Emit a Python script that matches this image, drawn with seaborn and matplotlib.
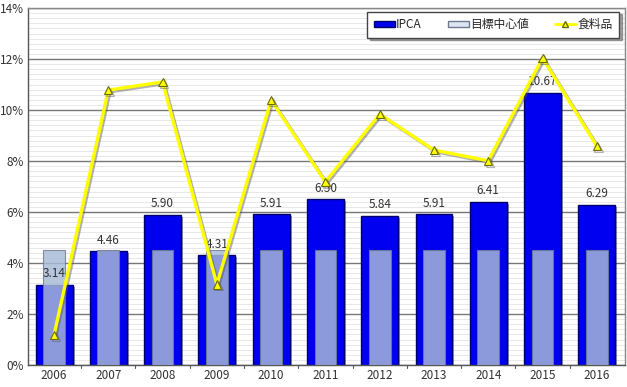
import matplotlib
matplotlib.use("Agg")
import matplotlib.pyplot as plt
import matplotlib.patheffects as pe
from matplotlib.patches import Patch
from matplotlib.lines import Line2D
from matplotlib.ticker import MultipleLocator, FuncFormatter
import seaborn as sns
import numpy as np
import pandas as pd

years = ["2006", "2007", "2008", "2009", "2010", "2011", "2012", "2013", "2014", "2015", "2016"]
ipca = [3.14, 4.46, 5.90, 4.31, 5.91, 6.50, 5.84, 5.91, 6.41, 10.67, 6.29]
target = [4.5, 4.5, 4.5, 4.5, 4.5, 4.5, 4.5, 4.5, 4.5, 4.5, 4.5]
food = [1.18, 10.78, 11.10, 3.16, 10.39, 7.18, 9.84, 8.43, 8.01, 12.04, 8.59]
series_names = ["IPCA", "目標中心値", "食料品"]

sns.set_theme(style="white")
plt.rcParams["font.family"] = ["Noto Sans CJK JP", "DejaVu Sans"]

df = pd.DataFrame({"year": years, "ipca": ipca, "target": target, "food": food})

fig = plt.figure(figsize=(6.27, 3.87), dpi=100)
ax = fig.add_axes([28 / 627, 22 / 387, (625 - 28) / 627, (365 - 8) / 387])

shadow = [pe.SimpleLineShadow(offset=(1.2, -1.2), shadow_color="#555555", alpha=0.45), pe.Normal()]

sns.barplot(data=df, x="year", y="ipca", ax=ax, width=0.68, color="#0000F0",
            saturation=1, edgecolor="#00006A", linewidth=1.0, zorder=2)
for b in list(ax.patches):
    b.set_path_effects([pe.SimplePatchShadow(offset=(1.5, -1.5), alpha=0.4), pe.Normal()])

sns.barplot(data=df, x="year", y="target", ax=ax, width=0.40, color="#A9BBD9",
            saturation=1, edgecolor="#6E7A90", linewidth=0.8, alpha=0.83, zorder=3)

sns.pointplot(data=df, x="year", y="food", ax=ax, color="#FFFF00", markers="^",
              linestyles="-", markersize=6, linewidth=2.4,
              markeredgecolor="#6B6B00", markeredgewidth=0.8, zorder=6)
for ln in ax.lines:
    ln.set_path_effects(shadow)
    ln.set_zorder(6)

for i, v in enumerate(ipca):
    ax.text(i, v + 0.18, f"{v:.2f}", ha="center", va="bottom", fontsize=8.5,
            color="#333333", zorder=5)

ax.set_xlim(-0.48, 10.52)
ax.set_ylim(0, 14)
ax.yaxis.set_major_locator(MultipleLocator(2))
ax.yaxis.set_minor_locator(MultipleLocator(0.2))
ax.yaxis.set_major_formatter(FuncFormatter(lambda v, p: f"{int(round(v))}%"))
ax.grid(which="major", axis="y", color="#777777", linewidth=1.0, zorder=0)
ax.grid(which="minor", axis="y", color="#E8E8E8", linewidth=0.7, zorder=0)
ax.set_axisbelow(True)
ax.set_xlabel("")
ax.set_ylabel("")
ax.tick_params(axis="both", labelsize=8.5, colors="#333333", length=0, pad=3)
for s in ax.spines.values():
    s.set_color("#888888")
    s.set_linewidth(1.0)
ax.spines["left"].set_color("#555555")
ax.spines["bottom"].set_color("#555555")

for i in range(len(years) - 1):
    ax.plot([i + 0.5, i + 0.5], [0, -0.12], color="#555555", lw=0.8, clip_on=False, zorder=1)

handles = [
    Patch(facecolor="#0000F0", edgecolor="#00006A", label=series_names[0]),
    Patch(facecolor="#DDE6F0", edgecolor="#6E7A90", label=series_names[1]),
    Line2D([0], [0], color="#FFFF00", lw=2, marker="^", markersize=5,
           markeredgecolor="#6B6B00", label=series_names[2]),
]
leg = ax.legend(handles=handles, loc="upper right", ncol=3, fontsize=8.5,
                frameon=True, fancybox=False, shadow=True, handlelength=1.8,
                handleheight=0.5, handletextpad=0.1, columnspacing=2.2,
                borderpad=0.55, bbox_to_anchor=(0.99, 0.99), borderaxespad=0)
leg.get_frame().set_edgecolor("#444444")
leg.get_frame().set_linewidth(1.0)
leg.set_zorder(10)

fig.savefig("out.png", dpi=100)
